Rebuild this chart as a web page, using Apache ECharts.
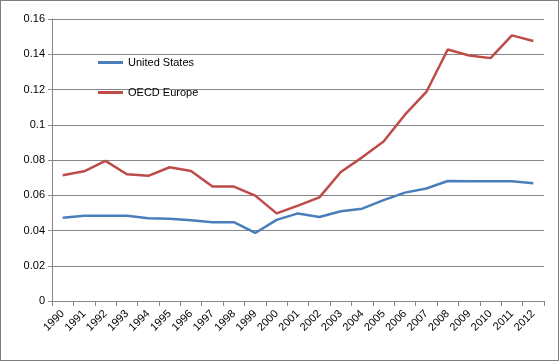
<!DOCTYPE html>
<html><head><meta charset="utf-8">
<script src="https://cdn.jsdelivr.net/npm/echarts@6/dist/echarts.min.js"></script>
<style>
html,body{margin:0;padding:0;background:#fff;}
#frame{position:absolute;left:0;top:0;width:557px;height:359px;border:1px solid #7f7f7f;}
#chart{position:absolute;left:0;top:0;width:560px;height:361px;}
</style></head>
<body>
<div id="frame"></div>
<div id="chart"></div>
<script>
const years = ['1990','1991','1992','1993','1994','1995','1996','1997','1998','1999','2000','2001','2002','2003','2004','2005','2006','2007','2008','2009','2010','2011','2012'];
const unitedStates = [0.0473,0.0484,0.0484,0.0484,0.0470,0.0467,0.0458,0.0447,0.0447,0.0386,0.0460,0.0497,0.0477,0.0509,0.0524,0.0572,0.0615,0.0638,0.0681,0.0680,0.0680,0.0680,0.0668];
const oecdEurope = [0.0714,0.0736,0.0795,0.0719,0.0710,0.0759,0.0738,0.0649,0.0649,0.0598,0.0497,0.0541,0.0588,0.0732,0.0815,0.0905,0.1057,0.1186,0.1427,0.1393,0.1378,0.1507,0.1475];
const yTicks = [0,0.02,0.04,0.06,0.08,0.1,0.12,0.14,0.16];

const chart = echarts.init(document.getElementById('chart'), null, {renderer:'canvas'});
const font = 'Liberation Sans, Arial, sans-serif';
chart.setOption({
  animation:false,
  grid:{left:52,right:16,top:19,bottom:60,containLabel:false},
  legend:{
    left:93, top:52, orient:'vertical', itemGap:19,
    icon:'rect', itemWidth:25, itemHeight:3,
    textStyle:{fontFamily:font,fontSize:11,color:'#000'},
    data:['United States','OECD Europe']
  },
  xAxis:{
    type:'category', data:years, boundaryGap:true,
    axisLine:{lineStyle:{color:'#868686',width:1}},
    axisTick:{show:true,length:5,alignWithLabel:false,lineStyle:{color:'#868686'}},
    axisLabel:{rotate:45,fontFamily:font,fontSize:11,color:'#000',interval:0,margin:11}
  },
  yAxis:{
    type:'value', min:yTicks[0], max:yTicks[yTicks.length-1], interval:0.02,
    axisLine:{show:true,lineStyle:{color:'#868686'}},
    axisTick:{show:true,length:4,lineStyle:{color:'#868686'}},
    axisLabel:{fontFamily:font,fontSize:11,color:'#000',margin:7,
      formatter:function(v){return String(parseFloat(v.toFixed(2)));}},
    splitLine:{lineStyle:{color:'#868686',width:1}}
  },
  series:[
    {name:'United States',type:'line',data:unitedStates,symbol:'none',
     lineStyle:{color:'#4a7ebb',width:2.5},itemStyle:{color:'#4a7ebb'}},
    {name:'OECD Europe',type:'line',data:oecdEurope,symbol:'none',
     lineStyle:{color:'#be4b48',width:2.5},itemStyle:{color:'#be4b48'}}
  ]
});
</script>
</body></html>
